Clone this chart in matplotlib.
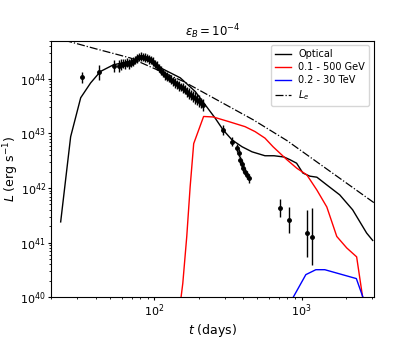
"""Light curves for eps_B = 1e-4: optical data vs model, gamma-ray bands and L_e."""
import matplotlib
matplotlib.use("Agg")
import matplotlib.pyplot as plt
import numpy as np

# optical model curve
opt_t = [23.1, 27, 31.6, 36.9, 43, 52.7, 72, 84.4, 110, 150, 189.5, 259, 293,
         337, 394, 461, 564, 650, 760, 834, 925, 1021, 1137, 1270, 1484, 1816,
         2222, 2766, 3040]
opt_L = [2.4e41, 8.7e42, 4.5e43, 8.4e43, 1.36e44, 1.8e44, 2.17e44, 2.4e44,
         1.59e44, 1.04e44, 5.85e43, 1.9e43, 1.16e43, 7.6e42, 5.7e42, 4.6e42,
         3.9e42, 3.9e42, 3.7e42, 3.3e42, 2.85e42, 1.88e42, 1.65e42, 1.58e42,
         1.14e42, 7.5e41, 4.0e41, 1.5e41, 1.1e41]

# 0.1 - 500 GeV
gev_t = [147, 156, 166, 175, 185, 216, 251, 319, 413, 483, 564, 640, 795, 929,
         1086, 1270, 1484, 1734, 2027, 2366, 2700]
gev_L = [5e39, 1.8e40, 1.3e41, 1.05e42, 6.5e42, 2.04e43, 2.0e43, 1.65e43,
         1.33e43, 1.08e43, 8.2e42, 5.7e42, 3.3e42, 2.3e42, 1.74e42, 9.2e41,
         4.5e41, 1.3e41, 8e40, 5.5e40, 5e39]

# 0.2 - 30 TeV
tev_t = [877, 1069, 1250, 1438, 2355, 2612]
tev_L = [1e40, 2.6e40, 3.2e40, 3.2e40, 2.2e40, 1e40]

# L_e
le_t = [20, 23.7, 39.8, 68.9, 158, 470, 795, 3100]
le_L = [5.9e44, 5.2e44, 3.55e44, 2.4e44, 8.9e43, 1.77e43, 7.4e42, 5.4e41]

# observed optical points (days, erg/s) and error half-widths in dex
obs_t = [32.4, 42.0, 53.0,
         57.1, 59.8, 61.7, 63.6, 65.6, 67.7, 69.9, 72.1, 74.4, 76.7, 79.1,
         81.7, 84.2, 86.9, 89.7, 92.5, 95.4, 98.4, 101.6, 104.8, 108.1, 111.5,
         115.1, 118.7, 122.5, 126.3, 130.3, 134.5, 138.7, 143.1, 147.7, 152.3,
         157.1, 162.1, 167.3, 172.6, 178.0, 183.7, 189.5, 195.5, 201.7, 208.0,
         214.7,
         294, 336, 363, 373, 382, 392, 402, 413, 424, 442,
         713, 824, 1086, 1180]
obs_L = [1.06e44, 1.31e44, 1.68e44,
         1.68e44, 1.81e44, 1.88e44, 1.85e44, 1.97e44, 1.88e44, 1.97e44,
         2.05e44, 2.23e44, 2.38e44, 2.48e44, 2.53e44, 2.48e44, 2.43e44,
         2.38e44, 2.28e44, 2.18e44, 2.05e44, 1.88e44, 1.73e44, 1.56e44,
         1.40e44, 1.29e44, 1.16e44, 1.09e44, 1.02e44, 9.6e43, 9.0e43, 8.4e43,
         7.9e43, 7.4e43, 7.1e43, 6.7e43, 6.3e43, 5.8e43, 5.3e43, 5.0e43,
         4.7e43, 4.4e43, 4.1e43, 3.9e43, 3.6e43, 3.3e43,
         1.16e43, 7.1e42, 5.4e42, 4.4e42, 3.27e42, 2.75e42, 2.3e42, 2.0e42,
         1.74e42, 1.5e42,
         4.3e41, 2.6e41, 1.48e41, 1.29e41]
obs_dex = [0.10, 0.14, 0.11,
           0.11, 0.10, 0.08, 0.09, 0.08, 0.09, 0.08, 0.08, 0.07, 0.08, 0.07,
           0.08, 0.07, 0.08, 0.07, 0.08, 0.07, 0.08, 0.07, 0.08, 0.07, 0.08,
           0.07, 0.08, 0.08, 0.07, 0.08, 0.08, 0.09, 0.08, 0.09, 0.08, 0.09,
           0.08, 0.09, 0.10, 0.09, 0.10, 0.11, 0.10, 0.11, 0.10, 0.11,
           0.09, 0.08, 0.08, 0.07, 0.07, 0.07, 0.07, 0.07, 0.07, 0.08,
           0.17, 0.23, 0.43, 0.52]

obs_t = np.array(obs_t)
obs_L = np.array(obs_L)
obs_dex = np.array(obs_dex)
err_lo = obs_L - obs_L * 10 ** (-obs_dex)
err_hi = obs_L * 10 ** obs_dex - obs_L

fig = plt.figure(figsize=(4.15, 3.4), dpi=100)
ax = fig.add_axes([0.124, 0.1256, 0.777, 0.755])

ax.errorbar(obs_t, obs_L, yerr=[err_lo, err_hi], fmt="o", color="k",
            markersize=2.5, elinewidth=1, capsize=0, zorder=3)
ax.plot(opt_t, opt_L, color="k", lw=1, label="Optical")
ax.plot(gev_t, gev_L, color="r", lw=1, label="0.1 - 500 GeV")
ax.plot(tev_t, tev_L, color="b", lw=1, label="0.2 - 30 TeV")
ax.plot(le_t, le_L, color="k", lw=0.9, ls="-.", label=r"$L_e$")

ax.set_xscale("log")
ax.set_yscale("log")
ax.set_xlim(20, 3100)
ax.set_ylim(1e40, 5e44)
ax.tick_params(which="major", labelsize=8, length=2.5, width=0.8, pad=1.5)
ax.tick_params(which="minor", length=1.5, width=0.6)
ax.set_xlabel(r"$t$ (days)", fontsize=9, labelpad=2)
ax.set_ylabel(r"$L$ (erg s$^{-1}$)", fontsize=9)
ax.yaxis.set_label_coords(-0.094, 0.5)
ax.set_title(r"$\epsilon_B = 10^{-4}$", fontsize=8.5, pad=3)
ax.legend(loc="upper right", fontsize=7, handlelength=1.6, labelspacing=0.3)

fig.savefig("out.png", dpi=100)
